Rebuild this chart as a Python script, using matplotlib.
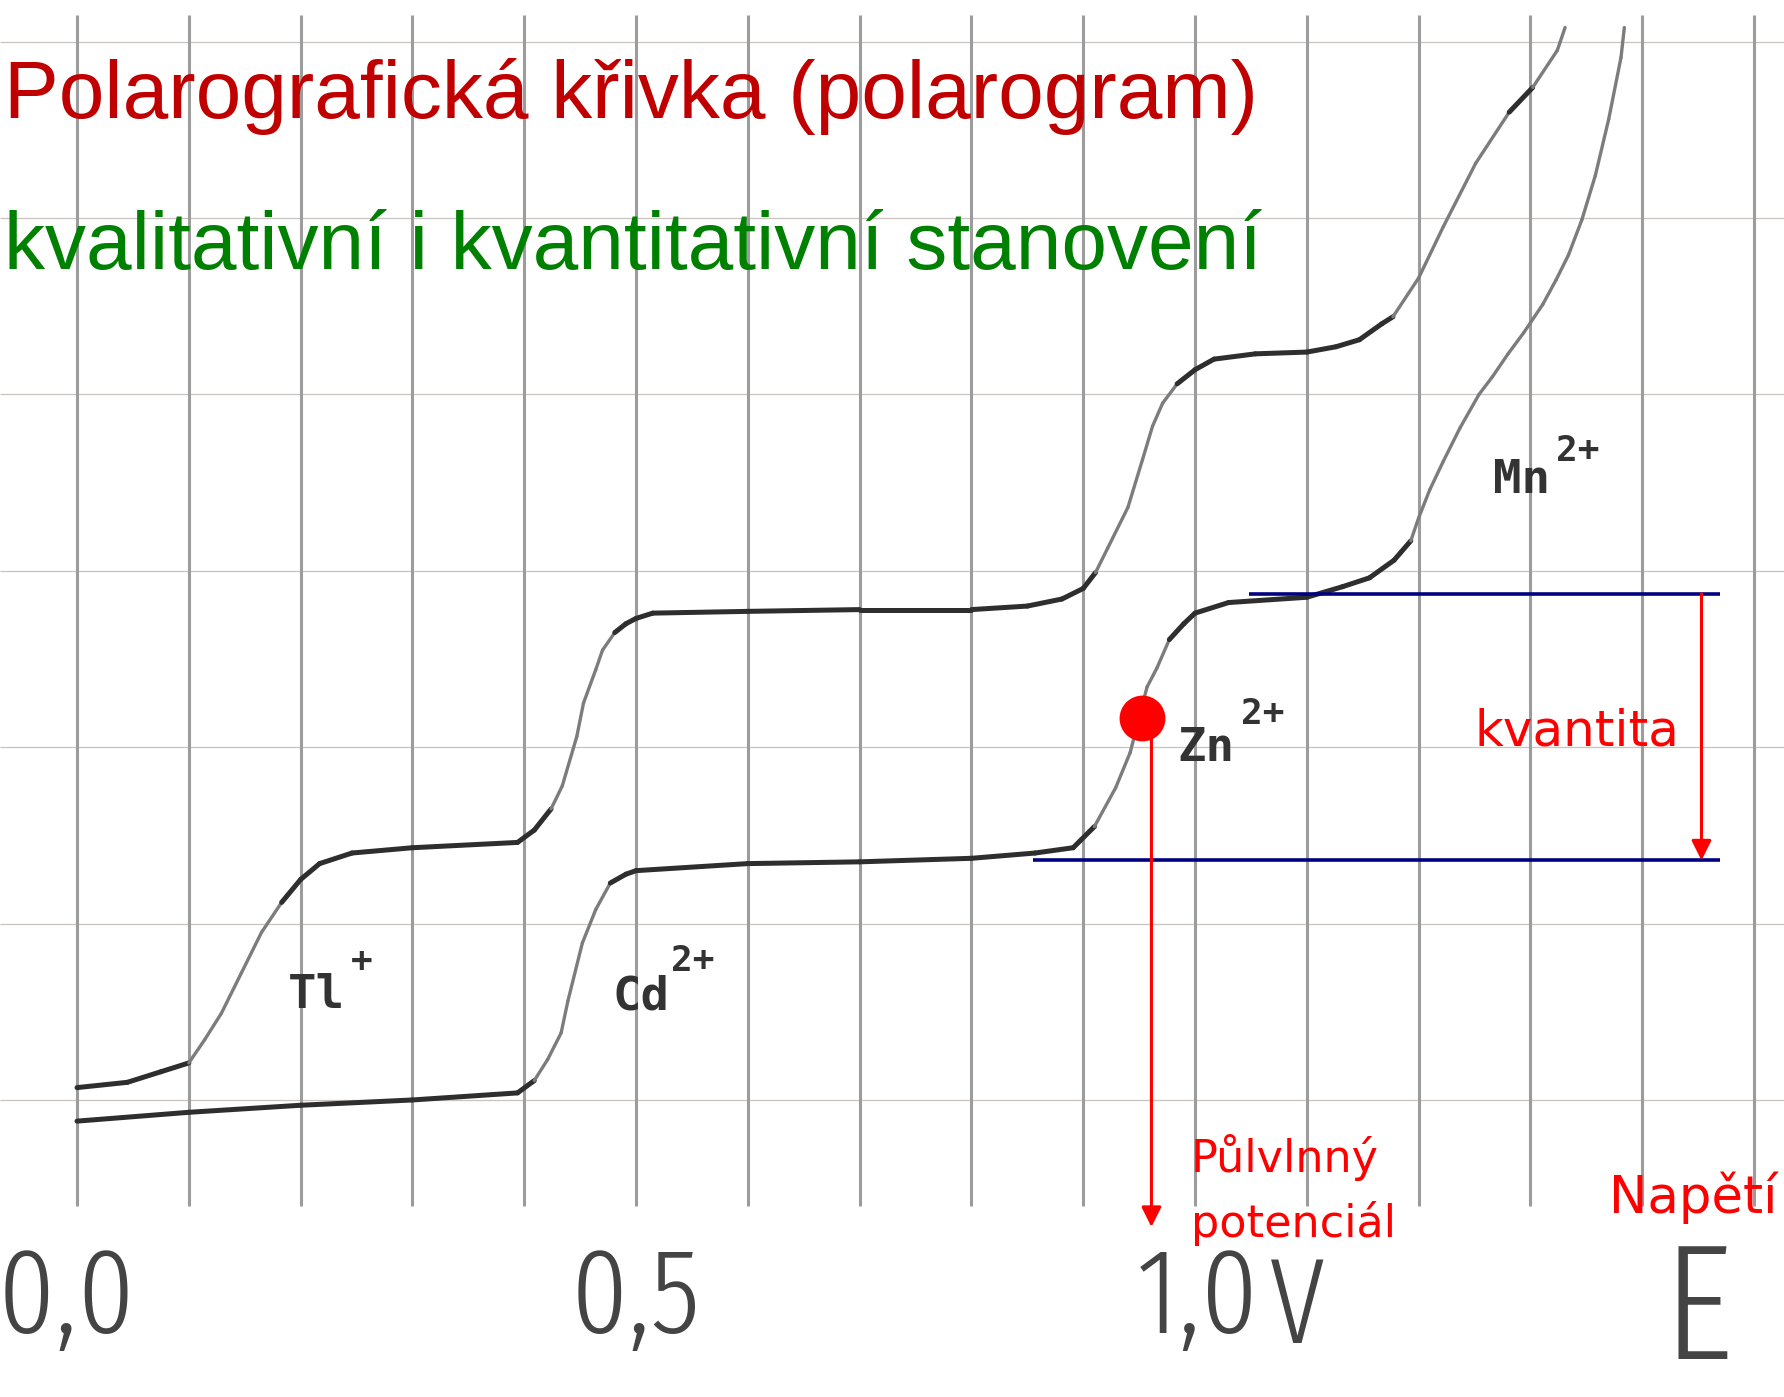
import numpy as np
import matplotlib
matplotlib.use("Agg")
import matplotlib.pyplot as plt
from matplotlib.collections import LineCollection
from matplotlib import font_manager

# ---------------- data (volts, current in grid units) ----------------
upper_V = [0.000, 0.045, 0.075, 0.100, 0.114, 0.129, 0.147, 0.165, 0.183, 0.200,
           0.217, 0.246, 0.300, 0.394, 0.409, 0.424, 0.434, 0.447, 0.453, 0.464,
           0.470, 0.481, 0.491, 0.500, 0.515, 0.600, 0.700, 0.800, 0.850, 0.881,
           0.900, 0.911, 0.922, 0.940, 0.953, 0.962, 0.971, 0.984, 1.000, 1.017,
           1.054, 1.100, 1.126, 1.147, 1.167, 1.177, 1.200, 1.222, 1.251, 1.281,
           1.302, 1.324, 1.331]
upper_I = [0.07, 0.10, 0.16, 0.21, 0.34, 0.49, 0.72, 0.95, 1.12, 1.25,
           1.34, 1.40, 1.43, 1.46, 1.53, 1.65, 1.78, 2.06, 2.25, 2.44,
           2.55, 2.65, 2.70, 2.73, 2.76, 2.77, 2.78, 2.78, 2.80, 2.84,
           2.90, 2.99, 3.13, 3.36, 3.63, 3.82, 3.95, 4.06, 4.14, 4.20,
           4.23, 4.24, 4.27, 4.31, 4.40, 4.44, 4.66, 4.95, 5.31, 5.60,
           5.74, 5.95, 6.08]

lower_V = [0.000, 0.100, 0.200, 0.300, 0.394, 0.409, 0.421, 0.433, 0.439, 0.452,
           0.464, 0.477, 0.491, 0.500, 0.600, 0.700, 0.800, 0.857, 0.891, 0.910,
           0.929, 0.942, 0.957, 0.966, 0.977, 0.990, 1.000, 1.030, 1.100, 1.132,
           1.156, 1.178, 1.193, 1.200, 1.210, 1.222, 1.237, 1.254, 1.266, 1.280,
           1.294, 1.311, 1.323, 1.334, 1.346, 1.358, 1.370, 1.381, 1.384]
lower_I = [-0.12, -0.07, -0.03, 0.00, 0.04, 0.11, 0.23, 0.38, 0.56, 0.89,
           1.08, 1.23, 1.28, 1.30, 1.34, 1.35, 1.37, 1.40, 1.43, 1.55,
           1.77, 1.97, 2.34, 2.45, 2.61, 2.70, 2.76, 2.82, 2.85, 2.91,
           2.96, 3.06, 3.17, 3.30, 3.46, 3.62, 3.81, 4.00, 4.10, 4.23,
           4.35, 4.51, 4.65, 4.79, 4.99, 5.24, 5.56, 5.91, 6.08]

grid_volts = [0.0, 0.1, 0.2, 0.3, 0.4, 0.5, 0.6, 0.7, 0.8, 0.9,
              1.0, 1.1, 1.2, 1.3, 1.4, 1.5]
grid_current = [0, 1, 2, 3, 4, 5, 6]

tick_positions = [-0.009, 0.500, 1.002]
tick_labels = ["0,0", "0,5", "1,0"]
unit_label = "V"
axis_label = "E"

ion_names = ["Tl", "Cd", "Zn", "Mn"]
ion_charges = ["+", "2+", "2+", "2+"]
ion_V = [0.214, 0.504, 1.010, 1.292]
ion_I = [0.595, 0.584, 1.99, 3.51]
charge_V = [0.255, 0.551, 1.061, 1.342]
charge_I = [0.78, 0.79, 2.19, 3.68]

title_text = "Polarografická křivka (polarogram)"
subtitle_text = "kvalitativní i kvantitativní stanovení"

# limiting-current lines of the Zn wave
limit_upper = 2.87
limit_lower = 1.358
half_wave_V = 0.953
half_wave_I = 2.166

# ---------------- fonts for the scanned axis labels ----------------
def find_condensed():
    files = [f.fname for f in font_manager.fontManager.ttflist]
    prefs = [("extracondensed", "light"), ("extracondensed", "regular"),
             ("condensed", "light"), ("condensed", "regular")]
    for stretch, weight in prefs:
        for fn in files:
            low = fn.lower().replace("-", "").replace("_", "")
            base = low.rsplit("/", 1)[-1]
            if "italic" in base or "semi" in base:
                continue
            if stretch == "condensed" and "extracondensed" in base:
                continue
            if stretch == "condensed" and "ultracondensed" in base:
                continue
            if stretch in base and weight in base:
                if weight == "regular" or ("extralight" not in base and "semilight" not in base):
                    return fn, stretch
    return None, None


cond_file, cond_kind = find_condensed()
if cond_file is not None:
    tick_fp = font_manager.FontProperties(fname=cond_file)
    tick_size = 88 if cond_kind == "extracondensed" else 72
else:
    tick_fp = font_manager.FontProperties(family="Roboto", weight="light")
    tick_size = 64

# ---------------- figure ----------------
fig = plt.figure(figsize=(17.84, 13.97), dpi=100)
ax = fig.add_axes([0, 0, 1, 1])
ax.set_xlim(-0.0689, 1.5268)
ax.set_ylim(-1.684, 6.236)
ax.axis("off")

# scanned grid
ax.hlines(grid_current, -0.0689, 1.5268, color="#c9c4bf", lw=0.9, zorder=1)
ax.vlines(grid_volts, -0.60, 6.15, color="#9c9c9c", lw=2.2, zorder=1)


def draw_curve(V, I):
    V = np.asarray(V)
    I = np.asarray(I)
    assert len(V) == len(I)
    pts = np.column_stack([V, I])
    segs = np.stack([pts[:-1], pts[1:]], axis=1)
    slope = np.abs(np.diff(I) / np.diff(V)) * 176.4 / 1118.0
    colors = ["#7c7c7c" if s > 1.3 else "#2e2e2e" for s in slope]
    widths = [2.4 if s > 1.3 else 3.6 for s in slope]
    lc = LineCollection(segs, colors=colors, linewidths=widths,
                        capstyle="round", joinstyle="round", zorder=3)
    ax.add_collection(lc)


draw_curve(upper_V, upper_I)
draw_curve(lower_V, lower_I)

# ion labels
for name, ch, x, y, cx, cy in zip(ion_names, ion_charges, ion_V, ion_I, charge_V, charge_I):
    ax.text(x, y, name, fontsize=34, fontweight="bold", family="DejaVu Sans Mono",
            color="#333333", ha="center", va="center", zorder=4)
    ax.text(cx, cy, ch, fontsize=26, fontweight="bold", family="DejaVu Sans Mono",
            color="#333333", ha="center", va="center", zorder=4)

# axis labels of the scan
for x, t in zip(tick_positions, tick_labels):
    ax.text(x, -1.32, t, fontproperties=tick_fp, fontsize=tick_size,
            color="#444444", ha="center", va="baseline", zorder=4)
ax.text(1.091, -1.38, unit_label, fontproperties=tick_fp, fontsize=tick_size,
        color="#444444", ha="center", va="baseline", zorder=4)
ax.text(1.450, -1.47, axis_label, fontproperties=tick_fp, fontsize=tick_size * 1.35,
        color="#444444", ha="center", va="baseline", zorder=4)

# titles
ax.text(-0.0653, 5.567, title_text, fontsize=59, family="Liberation Sans",
        color="#C00000", ha="left", va="baseline", zorder=5)
ax.text(-0.0653, 4.711, subtitle_text, fontsize=59, family="Liberation Sans",
        color="#008000", ha="left", va="baseline", zorder=5)

# blue limiting current lines
ax.hlines([limit_upper], 1.048, 1.470, color="#000080", lw=2.6, zorder=5)
ax.hlines([limit_lower], 0.855, 1.470, color="#000080", lw=2.6, zorder=5)

# kvantita arrow
ax.annotate("", xy=(1.453, limit_lower), xytext=(1.453, limit_upper),
            arrowprops=dict(arrowstyle="-|>,head_length=0.6,head_width=0.3",
                            mutation_scale=20, color="red", lw=2.2,
                            shrinkA=0, shrinkB=0), zorder=6)
ax.text(1.250, 2.012, "kvantita", fontsize=36, family="DejaVu Sans",
        color="red", ha="left", va="baseline", zorder=6)

# half-wave potential
ax.annotate("", xy=(0.961, -0.72), xytext=(0.961, half_wave_I),
            arrowprops=dict(arrowstyle="-|>,head_length=0.6,head_width=0.3",
                            mutation_scale=20, color="red", lw=2.2,
                            shrinkA=0, shrinkB=0), zorder=6)
ax.plot([half_wave_V], [half_wave_I], "o", ms=33, color="red", mec="none", zorder=7)
ax.text(0.996, -0.408, "Půlvlnný", fontsize=32, family="DejaVu Sans",
        color="red", ha="left", va="baseline", zorder=6)
ax.text(0.996, -0.777, "potenciál", fontsize=32, family="DejaVu Sans",
        color="red", ha="left", va="baseline", zorder=6)
ax.text(1.370, -0.642, "Napětí", fontsize=37, family="DejaVu Sans",
        color="red", ha="left", va="baseline", zorder=6)

fig.savefig("out.png", dpi=100, facecolor="white")
